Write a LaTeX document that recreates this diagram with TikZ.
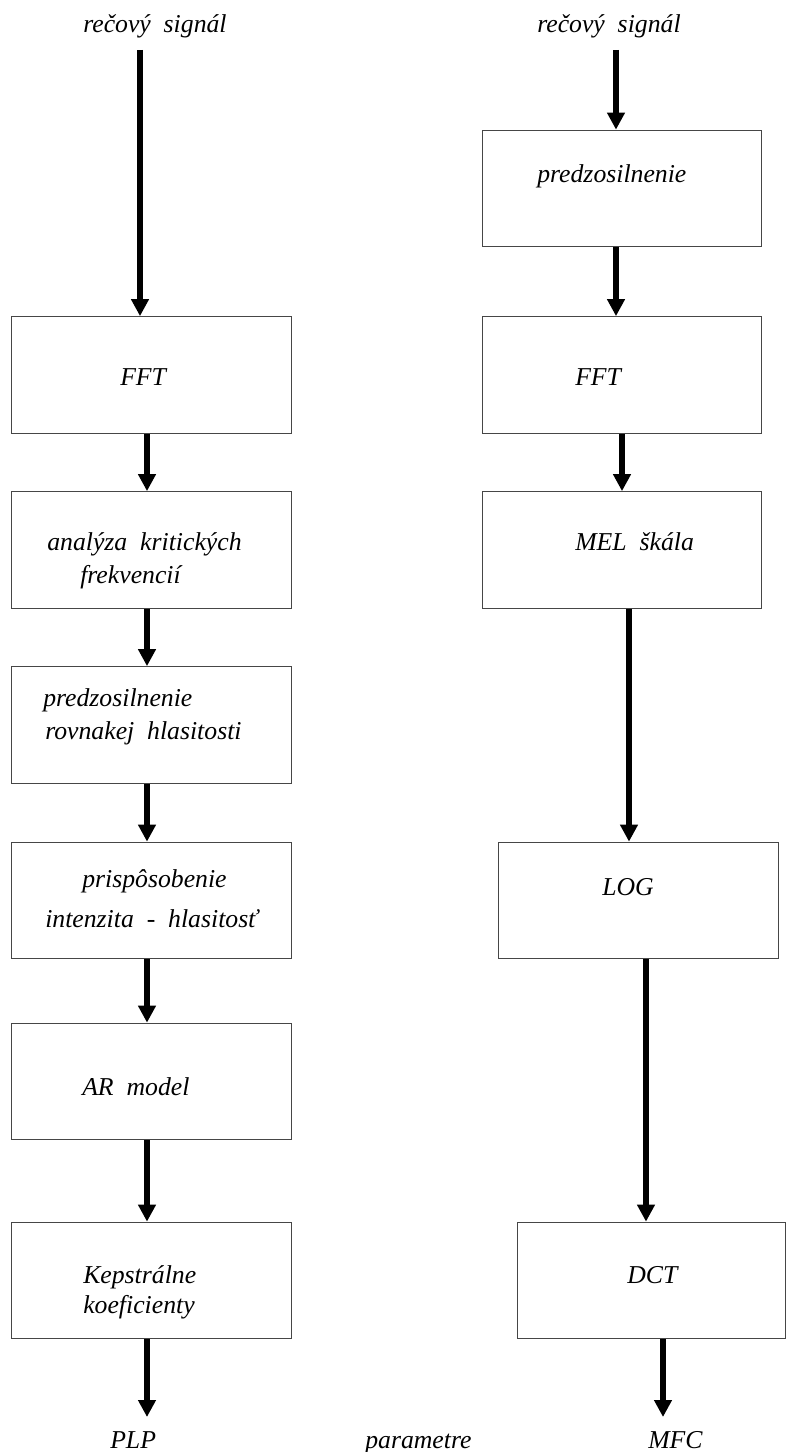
\documentclass[tikz,border=0pt]{standalone}
\usepackage{fontspec}
\setmainfont{Liberation Serif}
\usepackage{tikz}
\usetikzlibrary{arrows.meta}
\definecolor{boxgray}{RGB}{70,70,70}
\newcommand\lblfont{\itshape\fontsize{19.3}{23}\selectfont\spaceskip=0.5em\relax}

\begin{document}
\begin{tikzpicture}[x=0.75pt,y=-0.75pt,
    blok/.style={draw=boxgray, line width=0.8pt, minimum width=209.5pt, minimum height=87.5pt, inner sep=0pt},
    lbl/.style={anchor=base west, inner sep=0pt, font=\lblfont},
    pil/.style={line width=4.8pt, -{Triangle[length=12.75pt,width=12.75pt]}}]
      \useasboundingbox (0,0) rectangle (787,1452);
      % left chain: PLP
      \node[lbl] (sigL) at (83,33) {rečový signál};
      \node[blok] (fftL) at (151.5,375) {};
      \node[blok] (analL) at (151.5,550) {};
      \node[blok] (predL) at (151.5,725) {};
      \node[blok] (prisL) at (151.5,900.5) {};
      \node[blok] (arL) at (151.5,1081.5) {};
      \node[blok] (kepL) at (151.5,1280.5) {};
      \node[lbl] at (120,385) {FFT};
      \node[lbl] at (47,550) {analýza kritických};
      \node[lbl] at (80,583) {frekvencií};
      \node[lbl] at (43,706) {predzosilnenie};
      \node[lbl] at (45,739) {rovnakej hlasitosti};
      \node[lbl] at (82,887) {prispôsobenie};
      \node[lbl] at (45,927) {intenzita - hlasitosť};
      \node[lbl] at (82,1095) {AR model};
      \node[lbl] at (83,1283) {Kepstrálne};
      \node[lbl] at (83,1313) {koeficienty};
      \node[lbl] (plp) at (110,1448) {PLP};
      \node[lbl] (par) at (365,1448) {parametre};
      \coordinate (inL) at (140,50);
      \coordinate (outL) at (147,1417);
      \draw[pil] (inL) -- (inL |- fftL.north);
      \draw[pil] (fftL.south -| outL) -- (analL.north -| outL);
      \draw[pil] (analL.south -| outL) -- (predL.north -| outL);
      \draw[pil] (predL.south -| outL) -- (prisL.north -| outL);
      \draw[pil] (prisL.south -| outL) -- (arL.north -| outL);
      \draw[pil] (arL.south -| outL) -- (kepL.north -| outL);
      \draw[pil] (kepL.south -| outL) -- (outL);

      % right chain: MFC
      \node[lbl] (sigR) at (537,33) {rečový signál};
      \node[blok] (predR) at (622,188.5) {};
      \node[blok] (fftR) at (622,375) {};
      \node[blok] (melR) at (622,550) {};
      \node[blok] (logR) at (638.5,900.5) {};
      \node[blok, minimum width=201.5pt] (dctR) at (651.5,1280.5) {};
      \node[lbl] at (537,183) {predzosilnenie};
      \node[lbl] at (575,385) {FFT};
      \node[lbl] at (575,550) {MEL škála};
      \node[lbl] at (602,895) {LOG};
      \node[lbl] at (627,1283) {DCT};
      \node[lbl] (mfc) at (648,1448) {MFC};
      \coordinate (inR) at (616,50);
      \coordinate (outR) at (663,1417);
      \draw[pil] (inR) -- (inR |- predR.north);
      \draw[pil] (predR.south -| inR) -- (fftR.north -| inR);
      \draw[pil] ([xshift=4.5pt]fftR.south -| inR) -- ([xshift=4.5pt]melR.north -| inR);
      \draw[pil] ([xshift=9.75pt]melR.south -| inR) -- ([xshift=9.75pt]logR.north -| inR);
      \draw[pil] (logR.south -| 646,0) -- (dctR.north -| 646,0);
      \draw[pil] (dctR.south -| outR) -- (outR);
\end{tikzpicture}
\end{document}
